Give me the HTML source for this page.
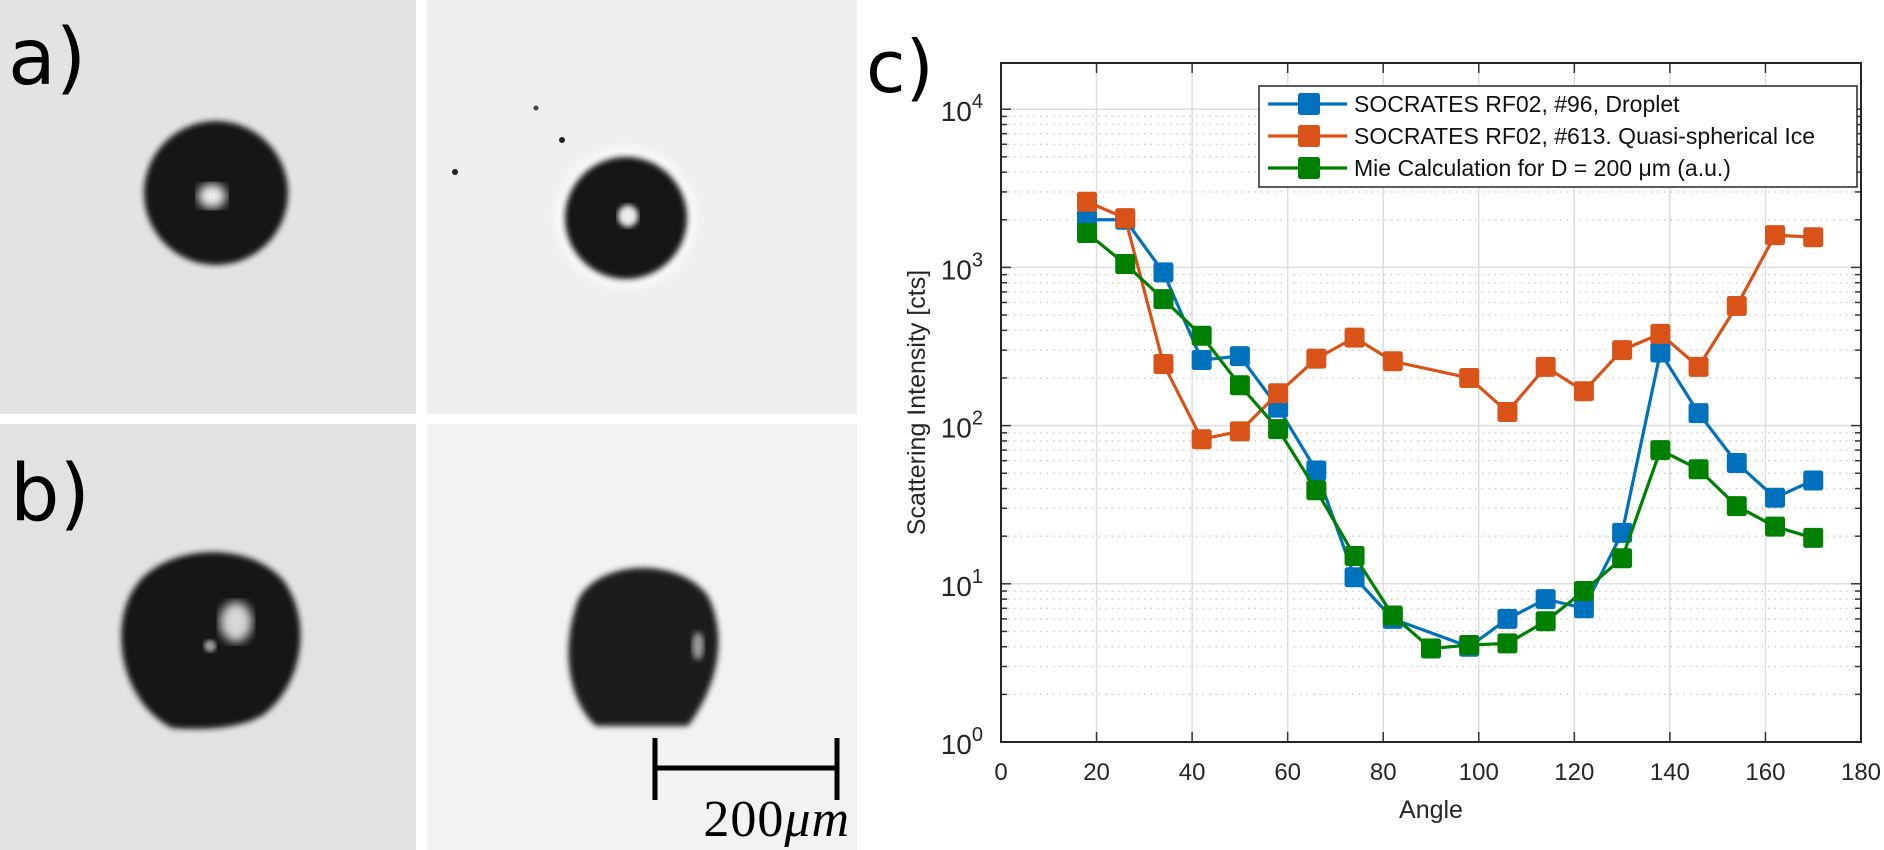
<!DOCTYPE html>
<html><head><meta charset="utf-8"><style>
html,body{margin:0;padding:0;background:#fff;}
body{width:1884px;height:850px;overflow:hidden;position:relative;font-family:"Liberation Sans",sans-serif;}
svg{position:absolute;left:0;top:0;}
</style></head><body>
<svg id="fig" width="1884" height="850" viewBox="0 0 1884 850">
<defs>
<filter id="blur3"><feGaussianBlur stdDeviation="3"/></filter>
<filter id="blur2"><feGaussianBlur stdDeviation="2"/></filter>
<filter id="blur5"><feGaussianBlur stdDeviation="5"/></filter>
</defs>
<g>
<rect x="0" y="0" width="416" height="414" fill="#e3e3e3"/>
<circle cx="216" cy="193" r="72" fill="#181818" filter="url(#blur3)"/>
<ellipse cx="212" cy="196" rx="14" ry="12" fill="#f0f0f0" filter="url(#blur5)"/>
</g>
<g>
<rect x="427" y="0" width="430" height="414" fill="#efefef"/>
<circle cx="626" cy="218" r="70" fill="#fafafa" filter="url(#blur5)"/>
<circle cx="626" cy="218" r="61" fill="#191919" filter="url(#blur3)"/>
<ellipse cx="628" cy="216" rx="10" ry="11" fill="#ededed" filter="url(#blur3)"/>
<circle cx="455" cy="172" r="3" fill="#222"/>
<circle cx="536" cy="108" r="2.5" fill="#444"/>
<circle cx="562" cy="140" r="3" fill="#222"/>
</g>
<g>
<rect x="0" y="424" width="416" height="426" fill="#e2e2e2"/>
<path d="M172 728 C118 700 108 620 138 583 C168 545 248 540 283 580 C313 620 303 685 263 715 C238 730 198 730 172 728 Z" fill="#191919" filter="url(#blur3)"/>
<ellipse cx="236" cy="622" rx="16" ry="20" fill="#d8d8d8" filter="url(#blur5)"/>
<circle cx="210" cy="646" r="6" fill="#999" filter="url(#blur2)"/>
</g>
<g>
<rect x="427" y="424" width="430" height="426" fill="#f2f2f2"/>
<path d="M596 726 C572 705 558 655 578 600 C598 560 678 556 708 596 C728 636 718 686 688 726 Z" fill="#1a1a1a" filter="url(#blur3)"/>
<ellipse cx="698" cy="646" rx="6" ry="14" fill="#999" filter="url(#blur3)"/>
</g>
<text x="8" y="84" font-family="DejaVu Sans, sans-serif" font-size="78" fill="#000">a)</text>
<text x="10" y="520" font-family="DejaVu Sans, sans-serif" font-size="78" fill="#000">b)</text>
<g stroke="#000" stroke-width="5">
<line x1="655" y1="768" x2="837" y2="768"/>
<line x1="655" y1="738" x2="655" y2="800"/>
<line x1="837" y1="738" x2="837" y2="800"/>
</g>
<text x="850" y="836" text-anchor="end" font-family="Liberation Serif, serif" font-size="52" fill="#000" letter-spacing="1">200<tspan font-style="italic">μm</tspan></text>
<text x="866" y="92" font-family="DejaVu Sans, sans-serif" font-size="72" fill="#000">c)</text>
<g id="chart"></g>
</svg>
<script>
const angles=[18,26,34,42,50,58,66,74,82,90,98,106,114,122,130,138,146,154,162,170];
const droplet=[2000,2000,930,260,275,130,52,11,6,null,4,6,8,7,21,290,120,58,35,45];
const ice=[2600,2050,245,82,92,160,265,360,255,null,200,122,235,165,300,380,235,570,1600,1550];
const mie=[1650,1050,630,370,180,95,39,15,6.3,3.9,4.1,4.2,5.8,9,14.5,70,53,31,23,19.5];
const xTicks=[0,20,40,60,80,100,120,140,160,180];
const yExp=[0,1,2,3,4];
const seriesNames=["SOCRATES RF02, #96, Droplet","SOCRATES RF02, #613. Quasi-spherical Ice","Mie Calculation for D = 200 μm (a.u.)"];
const L=1001,R=1861,T=63,B=742;
const X=a=>L+(a-0)/180*(R-L);
const Y=v=>742-Math.log10(v)*158.2;
const NS="http://www.w3.org/2000/svg";
const g=document.getElementById('chart');
function mk(tag,attrs,parent){const e=document.createElementNS(NS,tag);for(const k in attrs)e.setAttribute(k,attrs[k]);(parent||g).appendChild(e);return e;}
let e;
e=mk('rect',{x:L,y:T,width:R-L,height:B-T,fill:'#fff'});


const yTop=Math.pow(10,(B-T)/158.2);
for(let d=0;d<5;d++){for(let m=2;m<=9;m++){const v=m*Math.pow(10,d);if(v>yTop)continue;
e=mk('line',{x1:L,x2:R,y1:Y(v),y2:Y(v),stroke:'#c8c8c8','stroke-width':1.3,'stroke-dasharray':'1.5 5'});


mk('line',{x1:L,x2:L+6,y1:Y(v),y2:Y(v),stroke:'#333','stroke-width':1.5});
mk('line',{x1:R-6,x2:R,y1:Y(v),y2:Y(v),stroke:'#333','stroke-width':1.5});}}
yExp.forEach(p=>{const y=Y(Math.pow(10,p));
e=mk('line',{x1:L,x2:R,y1:y,y2:y,stroke:'#dedede','stroke-width':1.5});


mk('line',{x1:L,x2:L+10,y1:y,y2:y,stroke:'#333','stroke-width':1.5});
mk('line',{x1:R-10,x2:R,y1:y,y2:y,stroke:'#333','stroke-width':1.5});
const t=mk('text',{x:L-18,y:y+12,'text-anchor':'end','font-size':28,fill:'#262626','font-family':'Liberation Sans, sans-serif'});
t.textContent='10';
const s=mk('tspan',{dy:-13,'font-size':20},t);s.textContent=String(p);


});
xTicks.forEach(a=>{const x=X(a);
if(a>0&&a<180){e=mk('line',{x1:x,x2:x,y1:T,y2:B,stroke:'#dedede','stroke-width':1.5});

}
mk('line',{x1:x,x2:x,y1:B-10,y2:B,stroke:'#333','stroke-width':1.5});
mk('line',{x1:x,x2:x,y1:T,y2:T+10,stroke:'#333','stroke-width':1.5});
const t=mk('text',{x:x,y:B+38,'text-anchor':'middle','font-size':24,fill:'#262626','font-family':'Liberation Sans, sans-serif'});
t.textContent=String(a);


});
e=mk('rect',{x:L,y:T,width:R-L,height:B-T,fill:'none',stroke:'#262626','stroke-width':2});


const colors=['#0072BD','#D95319','#008000'];
const names=['series-droplet','series-ice','series-mie'];
[droplet,ice,mie].forEach((vals,i)=>{
const pts=[];vals.forEach((v,j)=>{if(v!=null)pts.push([X(angles[j]),Y(v)]);});
const grp=mk('g',{});


mk('polyline',{points:pts.map(p=>p.join(',')).join(' '),fill:'none',stroke:colors[i],'stroke-width':3.2,'stroke-linejoin':'round'},grp);
pts.forEach(p=>{const r=mk('rect',{x:p[0]-10,y:p[1]-10,width:20,height:20,rx:2.5,fill:colors[i]},grp);

});
});
e=mk('text',{x:X(90),y:818,'text-anchor':'middle','font-size':25,fill:'#262626','font-family':'Liberation Sans, sans-serif'});
e.textContent='Angle';


e=mk('text',{x:0,y:0,'text-anchor':'middle','font-size':25,fill:'#262626','font-family':'Liberation Sans, sans-serif',transform:'translate(925,'+((T+B)/2)+') rotate(-90)'});
e.textContent='Scattering Intensity [cts]';


const lg=mk('g',{});


mk('rect',{x:1259,y:86,width:598,height:101,fill:'#fff',stroke:'#262626','stroke-width':1.5},lg);
seriesNames.forEach((n,i)=>{const y=104+i*32;
const en=mk('g',{},lg);


mk('line',{x1:1268,x2:1347,y1:y,y2:y,stroke:colors[i],'stroke-width':3.2},en);
mk('rect',{x:1298,y:y-11,width:22,height:22,rx:2.5,fill:colors[i]},en);
const t=mk('text',{x:1354,y:y+8,'font-size':23,fill:'#111','font-family':'Liberation Sans, sans-serif'},en);
t.textContent=n;});
</script>
</body></html>
